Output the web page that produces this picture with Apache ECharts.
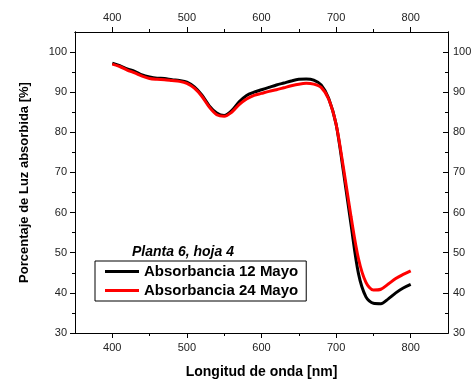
<!DOCTYPE html>
<html>
<head>
<meta charset="utf-8">
<script src="https://cdn.jsdelivr.net/npm/echarts@6/dist/echarts.min.js"></script>
<style>
html,body{margin:0;padding:0;background:#fff;}
#chart{width:474px;height:381px;}
</style>
</head>
<body>
<div id="chart"></div>
<script>
// Wavelength (nm)
const wavelengths = [400,410,420,430,440,450,460,470,480,490,500,510,520,530,540,550,560,570,580,590,600,610,620,630,640,650,660,670,680,690,700,710,720,730,740,750,760,770,780,790,800];
// Absorbancia 12 Mayo (black)
const abs12 = [97.2,96.6,95.8,95.2,94.3,93.8,93.5,93.4,93.1,92.9,92.5,91.3,89.3,86.6,84.8,84.2,85.4,87.6,89.2,90.0,90.6,91.2,91.8,92.3,92.8,93.2,93.3,93.0,91.8,88.5,82.0,70.0,57.0,44.8,39.0,37.4,37.3,38.5,40.0,41.2,42.1];
// Absorbancia 24 Mayo (red)
const abs24 = [97.0,96.4,95.5,94.8,94.0,93.4,93.2,93.1,92.9,92.7,92.2,91.0,89.0,86.3,84.4,84.0,85.0,86.9,88.3,89.2,89.7,90.2,90.6,91.1,91.6,92.0,92.2,92.0,91.2,88.3,82.0,71.0,59.0,48.5,42.6,40.7,40.9,42.2,43.6,44.6,45.5];
// Tick values
const xMajor = [400,500,600,700,800];
const xMinor = [450,550,650,750];
const yMajor = [30,40,50,60,70,80,90,100];
const yMinor = [35,45,55,65,75,85,95];
const seriesNames = ['Absorbancia 12 Mayo','Absorbancia 24 Mayo'];
const legendTitle = 'Planta 6, hoja 4';

const FONT = '"Liberation Sans", Arial, sans-serif';
const lineStyle = {color:'#000', width:1};

function xAx(pos, vals, len, labels, extra) {
  return Object.assign({
    type:'value', position:pos, min:350, max:850,
    axisLine:{show:true, onZero:false, lineStyle},
    axisTick:{show:true, inside:false, length:len, customValues:vals, lineStyle},
    axisLabel:{show:labels, customValues:vals, fontFamily:FONT, fontSize:11, color:'#222', margin:9},
    splitLine:{show:false}
  }, extra||{});
}
function yAx(pos, vals, len, inside, labels, extra) {
  return Object.assign({
    type:'value', position:pos, min:30, max:105,
    axisLine:{show:true, onZero:false, lineStyle},
    axisTick:{show:true, inside:inside, length:len, customValues:vals, lineStyle},
    axisLabel:{show:labels, customValues:vals, fontFamily:FONT, fontSize:11, color:'#222', margin:inside?5:8},
    splitLine:{show:false}
  }, extra||{});
}

const chart = echarts.init(document.getElementById('chart'), null, {renderer:'canvas'});
chart.setOption({
  animation:false,
  backgroundColor:'#fff',
  grid:{left:75, right:26, top:32, bottom:48, containLabel:false, outerBoundsMode:'none'},
  xAxis:[
    xAx('bottom', xMajor, 5, true, {name:'Longitud de onda [nm]', nameLocation:'middle', nameGap:32,
      nameTextStyle:{fontFamily:FONT, fontSize:14, fontWeight:'bold', color:'#000'}}),
    xAx('bottom', xMinor, 3, false),
    xAx('top', xMajor, 5, true),
    xAx('top', xMinor, 3, false)
  ],
  yAxis:[
    yAx('left', yMajor, 5, false, true, {name:'Porcentaje de Luz absorbida [%]', nameLocation:'middle', nameGap:44,
      nameTextStyle:{fontFamily:FONT, fontSize:13, fontWeight:'bold', color:'#000'}}),
    yAx('left', yMinor, 3, false, false),
    yAx('right', yMajor, 5, true, true),
    yAx('right', yMinor, 3, true, false)
  ],
  legend:{
    show:true, orient:'vertical', left:95, top:261,
    data:seriesNames.map(n=>({name:n, icon:'rect'})),
    itemWidth:34, itemHeight:3, itemGap:4,
    padding:[3,8,3,10],
    borderColor:'#000', borderWidth:1, borderRadius:0,
    backgroundColor:'#fff',
    textStyle:{fontFamily:FONT, fontSize:15, fontWeight:'bold', color:'#000'}
  },
  graphic:[{
    type:'text', left:132, top:245,
    style:{text:legendTitle, font:'italic bold 14px "Liberation Sans", Arial, sans-serif', fill:'#000'}
  }],
  series:[
    {name:seriesNames[0], type:'line', xAxisIndex:0, yAxisIndex:0, smooth:0.3, showSymbol:false,
     data:wavelengths.map((w,i)=>[w,abs12[i]]), lineStyle:{color:'#000', width:3}, itemStyle:{color:'#000'}},
    {name:seriesNames[1], type:'line', xAxisIndex:0, yAxisIndex:0, smooth:0.3, showSymbol:false,
     data:wavelengths.map((w,i)=>[w,abs24[i]]), lineStyle:{color:'#ff0000', width:3}, itemStyle:{color:'#ff0000'}}
  ]
});
</script>
</body>
</html>
